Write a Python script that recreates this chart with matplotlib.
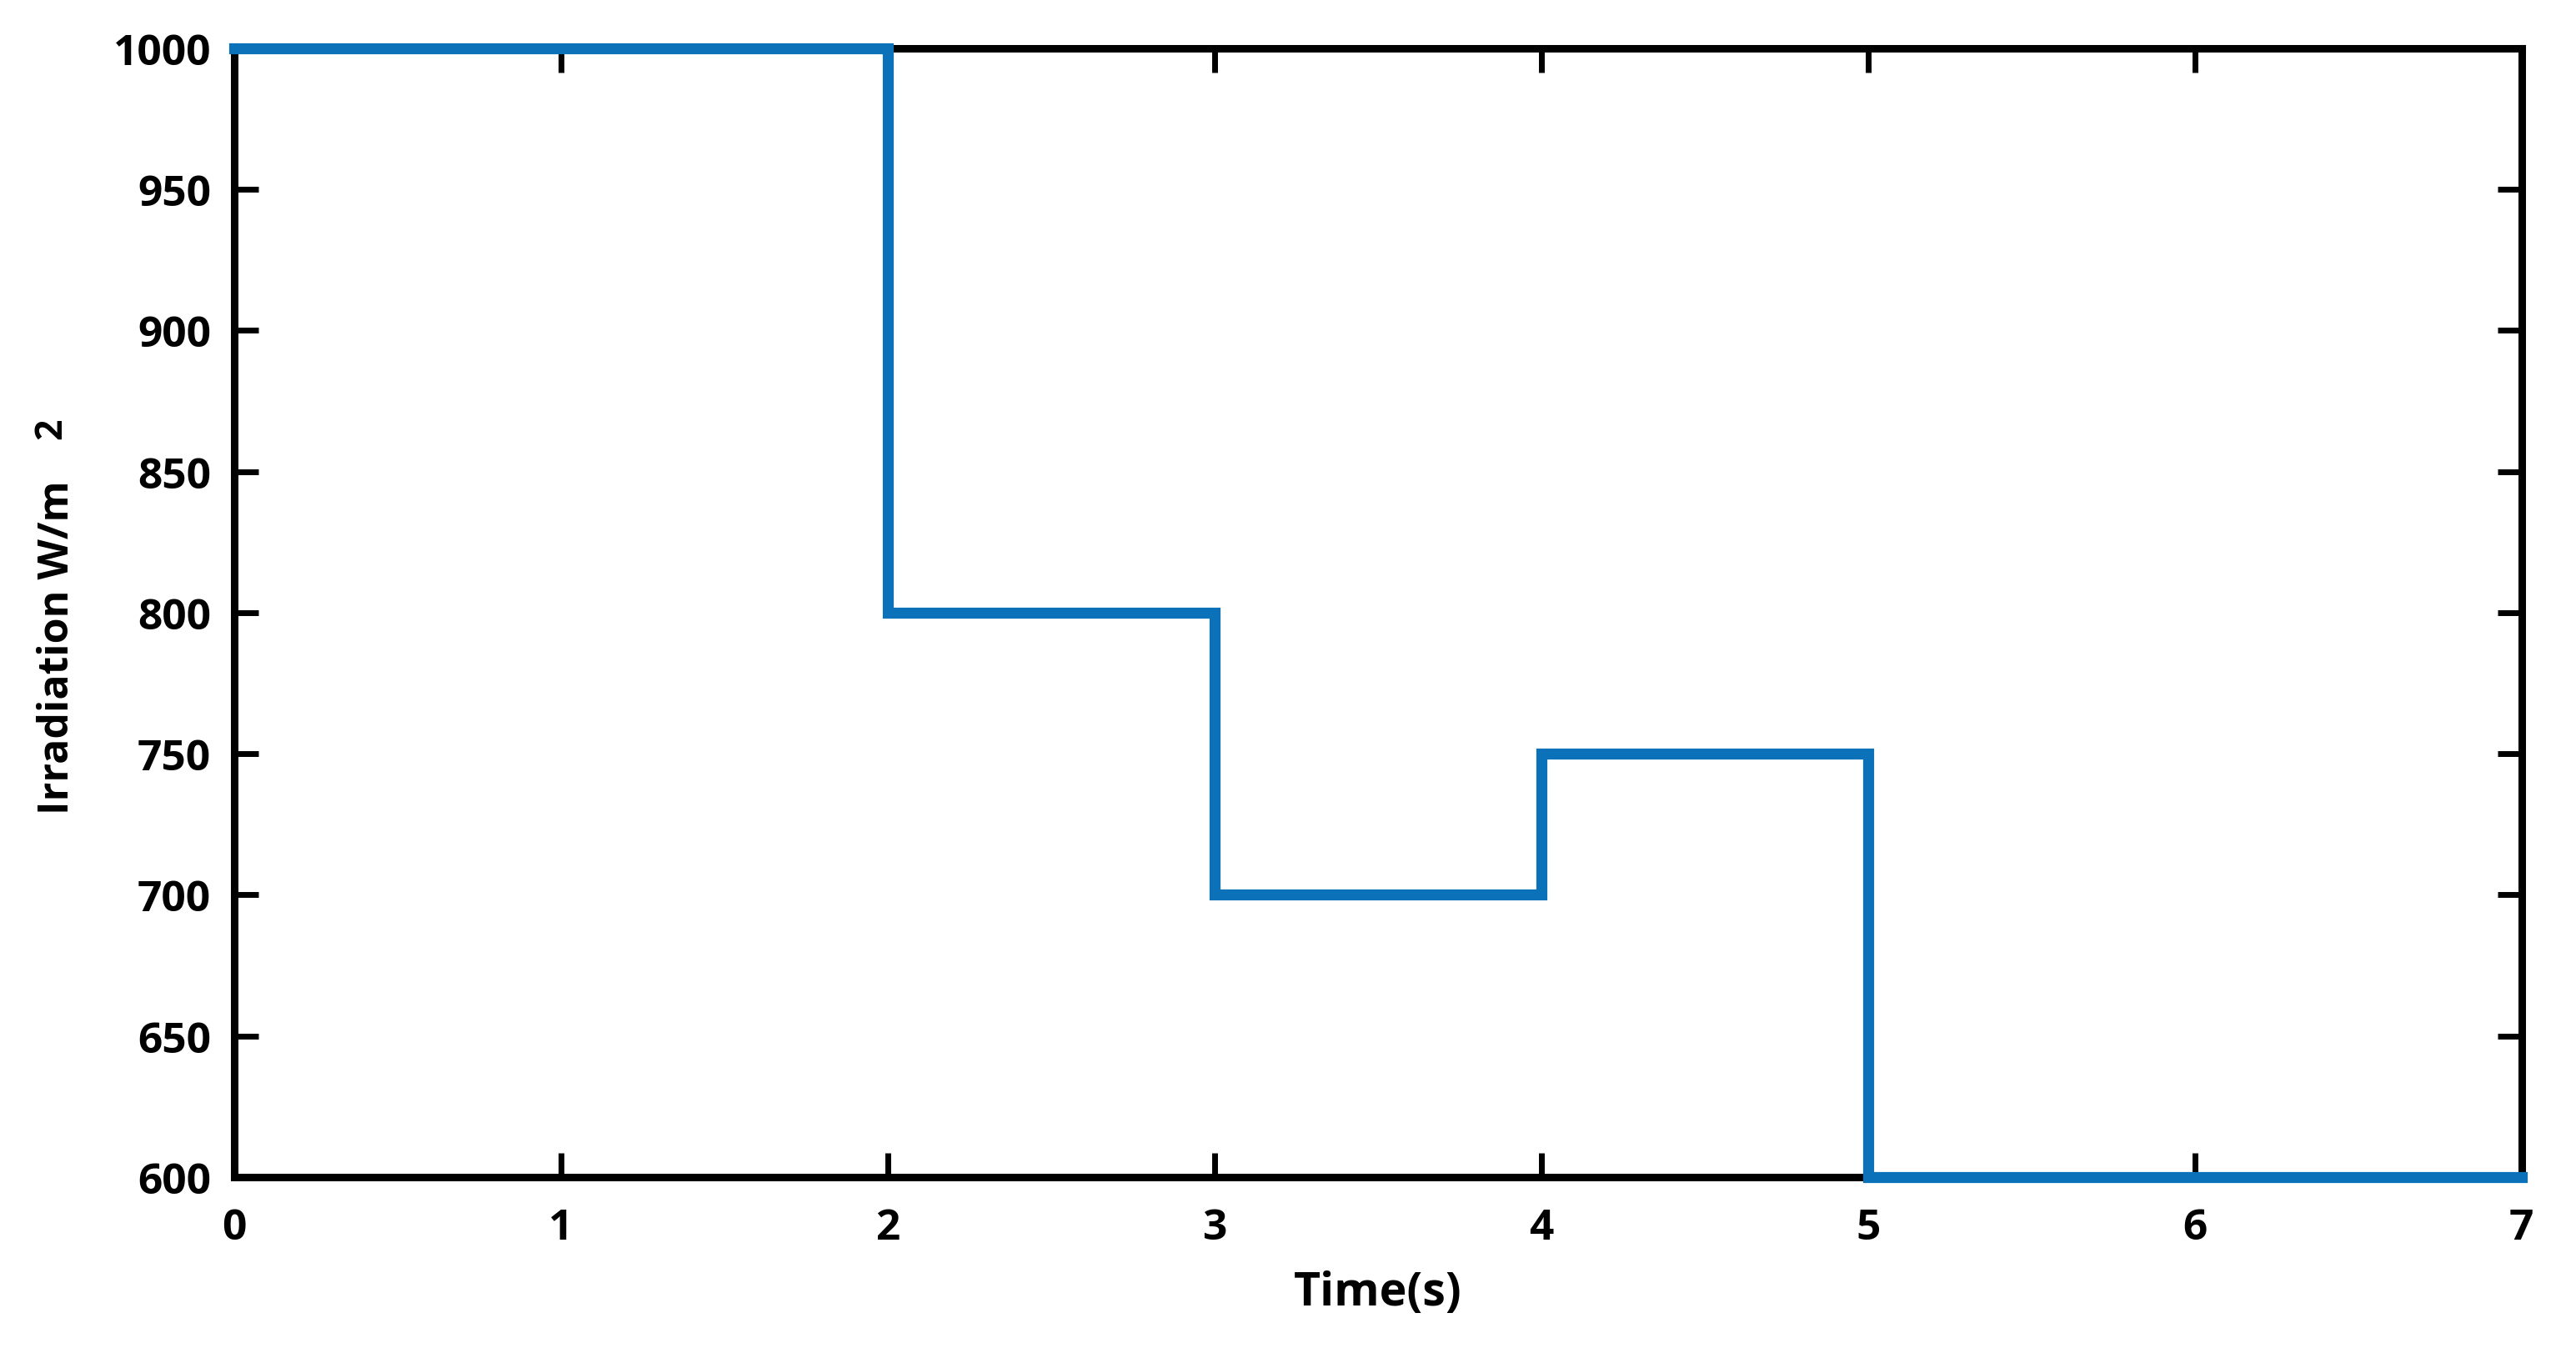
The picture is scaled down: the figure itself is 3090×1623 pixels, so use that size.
import matplotlib
matplotlib.use('Agg')
import matplotlib.pyplot as plt

# Datos: instantes de cambio y nivel de irradiación
time_s = [0, 2, 3, 4, 5, 7]
irradiation = [1000, 800, 700, 750, 600, 600]

x_ticks = [0, 1, 2, 3, 4, 5, 6, 7]
y_ticks = [600, 650, 700, 750, 800, 850, 900, 950, 1000]

plt.rcParams['font.family'] = ['Open Sans', 'DejaVu Sans']

fig = plt.figure(figsize=(30.9, 16.24), dpi=100)
ax = fig.add_axes([0.0909, 0.130, 0.888, 0.8337])

ax.plot(time_s, irradiation, drawstyle='steps-post', color='#0B72BA',
        linewidth=9.5, clip_on=False, zorder=3, solid_joinstyle='miter')

ax.set_xlim(0, 7)
ax.set_ylim(600, 1000)
ax.set_xticks(x_ticks)
ax.set_yticks(y_ticks)
ax.tick_params(axis='both', direction='in', length=21, width=5, top=True,
               right=True, labelsize=37)
ax.tick_params(axis='x', pad=26)
ax.tick_params(axis='y', pad=20)
for lbl in ax.get_xticklabels() + ax.get_yticklabels():
    lbl.set_fontweight('bold')
for s in ax.spines.values():
    s.set_linewidth(6.5)

ax.set_xlabel('Time(s)', fontsize=40, fontweight='bold', labelpad=18)
ax.set_ylabel('Irradiation W/m', fontsize=36, fontweight='bold')
ax.yaxis.set_label_coords(-0.068, 0.47)
fig.text(0.020, 0.683, '2', rotation=90, fontsize=32, fontweight='bold',
         ha='center', va='center')

fig.savefig('out.png', dpi=100, facecolor='white')
